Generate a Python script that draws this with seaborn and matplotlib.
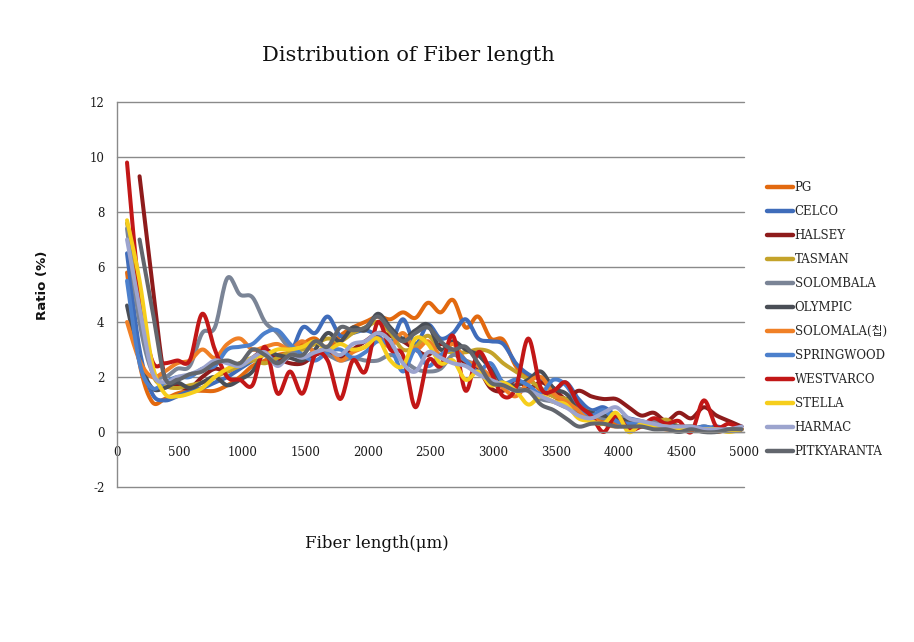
import numpy as np
import pandas as pd
import matplotlib
matplotlib.use("Agg")
import matplotlib.pyplot as plt
import seaborn as sns
from matplotlib.lines import Line2D

# fiber length bins (um)
fiber_len = [80 + 100 * i for i in range(50)]

series_names = ['PG', 'CELCO', 'HALSEY', 'TASMAN', 'SOLOMBALA', 'OLYMPIC',
                'SOLOMALA(칩)', 'SPRINGWOOD', 'WESTVARCO', 'STELLA', 'HARMAC',
                'PITKYARANTA']

series_colors = ['#E2690F', '#3F6CBA', '#8E1B1B', '#C4A32A', '#7A8496', '#4A4E56',
                 '#F08026', '#4C80CC', '#C21717', '#F6CE1C', '#9CA4CE', '#62666D']

nan = np.nan

pg = [5.8, 2.5, 1.1, 1.2, 1.4, 1.5, 1.5, 1.5, 1.7, 2.0, 2.4, 2.6, 2.8, 2.9, 3.2, 3.4, 3.0, 3.5, 3.8, 4.0,
      4.2, 4.1, 4.35, 4.15, 4.7, 4.35, 4.8, 3.8, 4.2, 3.4, 3.35, 2.4, 2.0, 1.5, 1.3, 1.0, 0.7, 0.5, 0.4, 0.3,
      0.3, 0.2, 0.2, 0.1, 0.1, 0.1, 0.1, 0.0, 0.1, 0.1]
celco = [6.5, 3.0, 1.4, 1.15, 1.3, 1.5, 1.6, 1.8, 2.0, 2.3, 2.6, 3.0, 2.6, 2.8, 3.8, 3.6, 4.2, 3.5, 3.6, 3.7,
         3.5, 3.2, 4.1, 3.2, 3.9, 3.4, 3.6, 4.1, 3.4, 3.3, 3.2, 2.5, 2.1, 1.9, 1.5, 1.8, 1.2, 0.8, 0.9, 0.6,
         0.5, 0.4, 0.3, 0.4, 0.2, 0.2, 0.1, 0.2, 0.1, 0.2]
halsey = [nan, 9.3, 5.5, 2.0, 1.7, 1.6, 2.0, 2.3, 2.2, 2.5, 2.7, 3.0, 2.7, 2.5, 2.5, 2.8, 2.9, 2.7, 3.0, 3.3,
          3.6, 3.5, 3.3, 3.0, 2.8, 3.2, 2.9, 2.5, 2.3, 1.6, 1.5, 1.9, 1.6, 1.8, 1.6, 1.2, 1.5, 1.3, 1.2, 1.2,
          0.9, 0.6, 0.7, 0.4, 0.7, 0.5, 0.9, 0.6, 0.4, 0.2]
tasman = [7.6, 5.0, 2.2, 1.7, 1.6, 1.7, 1.8, 2.0, 2.2, 2.4, 2.6, 2.5, 2.7, 2.9, 3.0, 3.2, 3.4, 3.3, 3.6, 3.8,
          4.0, 3.6, 3.0, 3.1, 3.5, 3.0, 2.9, 2.9, 3.0, 2.9, 2.5, 2.2, 1.9, 1.6, 1.3, 1.2, 0.9, 0.7, 0.5, 0.6,
          0.4, 0.2, 0.3, 0.45, 0.2, 0.2, 0.1, 0.1, 0.1, 0.1]
solombala = [7.4, 4.0, 2.2, 2.0, 2.3, 2.4, 3.6, 3.8, 5.6, 5.0, 4.9, 4.0, 3.6, 3.0, 2.7, 2.9, 2.8, 2.6, 2.7, 2.6,
             2.6, 2.8, 2.6, 2.3, 2.2, 2.3, 2.8, 2.6, 2.4, 2.0, 1.7, 1.6, 1.5, 1.2, 1.1, 0.9, 0.8, 0.7, 0.5, 0.6,
             0.4, 0.3, 0.4, 0.2, 0.2, 0.1, 0.1, 0.1, 0.1, 0.1]
olympic = [4.6, 2.6, 1.6, 1.6, 1.8, 1.6, 1.8, 2.0, 1.7, 1.9, 2.2, 2.9, 2.8, 2.7, 2.6, 3.0, 3.6, 3.3, 3.8, 3.7,
           4.3, 3.8, 3.4, 3.7, 3.9, 3.0, 3.3, 3.0, 2.8, 2.3, 1.8, 1.7, 1.9, 2.2, 1.6, 1.4, 0.9, 0.7, 0.6, 0.5,
           0.4, 0.3, 0.2, 0.3, 0.2, 0.1, 0.2, 0.1, 0.1, 0.1]
solomala_chip = [4.0, 2.6, 2.0, 2.2, 2.5, 2.6, 3.0, 2.7, 3.2, 3.4, 3.0, 3.1, 3.2, 3.0, 3.3, 2.9, 3.1, 2.6, 2.9, 3.1,
                 3.4, 3.1, 3.6, 3.0, 3.3, 2.8, 3.2, 2.6, 2.4, 2.0, 1.6, 1.3, 1.8, 2.0, 1.4, 1.1, 0.8, 0.5, 0.3, 0.2,
                 0.3, 0.2, 0.2, 0.1, 0.2, 0.1, 0.1, 0.1, 0.1, 0.1]
springwood = [5.5, 2.5, 1.6, 1.8, 2.0, 2.0, 2.3, 2.4, 3.0, 3.1, 3.2, 3.6, 3.7, 3.2, 2.8, 2.6, 2.9, 3.0, 2.7, 2.9,
              3.3, 3.1, 2.2, 3.0, 2.4, 2.8, 3.0, 2.6, 2.2, 2.5, 1.8, 1.9, 1.7, 1.4, 1.9, 1.7, 1.0, 0.6, 0.8, 0.4,
              0.3, 0.3, 0.2, 0.3, 0.1, 0.1, 0.2, 0.1, 0.1, 0.1]
westvarco = [9.8, 5.0, 2.6, 2.5, 2.6, 2.6, 4.3, 3.0, 2.0, 1.9, 1.7, 3.1, 1.4, 2.2, 1.4, 2.8, 2.6, 1.2, 2.6, 2.2,
             4.0, 3.0, 2.8, 0.9, 2.6, 2.4, 3.5, 1.5, 2.9, 2.2, 1.3, 1.6, 3.4, 1.6, 1.5, 1.8, 1.0, 0.6, 0.0, 0.6,
             0.1, 0.2, 0.5, 0.3, 0.4, 0.0, 1.15, 0.2, 0.3, 0.1]
stella = [7.7, 5.5, 2.5, 1.4, 1.3, 1.4, 1.6, 2.0, 2.3, 2.5, 2.7, 2.8, 3.0, 3.0, 3.1, 3.3, 3.0, 3.2, 3.0, 3.1,
          3.4, 2.6, 2.4, 3.4, 3.2, 2.5, 2.6, 1.9, 2.2, 1.7, 1.8, 1.5, 1.0, 1.3, 1.1, 1.0, 0.5, 0.4, 0.3, 0.7,
          0.0, 0.3, 0.2, 0.2, 0.1, 0.1, 0.1, 0.1, 0.0, 0.1]
harmac = [7.0, 4.5, 2.2, 1.8, 2.0, 2.1, 2.3, 2.6, 2.5, 2.4, 2.7, 2.9, 2.4, 2.8, 2.7, 2.9, 3.0, 2.8, 3.2, 3.3,
          3.6, 3.3, 2.5, 2.2, 2.9, 2.7, 2.5, 2.4, 2.1, 1.9, 1.7, 1.5, 1.5, 1.3, 1.1, 0.9, 0.6, 0.5, 0.7, 0.9,
          0.5, 0.4, 0.3, 0.2, 0.2, 0.2, 0.1, 0.1, 0.1, 0.2]
pitkyaranta = [nan, 7.0, 4.5, 2.0, 1.9, 2.1, 2.2, 2.5, 2.6, 2.5, 3.0, 2.8, 2.5, 2.8, 2.8, 3.3, 3.1, 3.8, 3.7, 3.8,
               4.2, 3.7, 3.3, 3.6, 3.8, 3.3, 3.0, 3.1, 2.5, 1.8, 1.7, 1.5, 1.5, 1.0, 0.8, 0.5, 0.2, 0.3, 0.3, 0.2,
               0.2, 0.2, 0.1, 0.1, 0.0, 0.1, 0.0, 0.0, 0.1, 0.1]

series_values = [pg, celco, halsey, tasman, solombala, olympic, solomala_chip,
                 springwood, westvarco, stella, harmac, pitkyaranta]


def smooth_line(x, y, n=14):
    # Catmull-Rom curve through the points, like Excel's smoothed lines
    x = np.asarray(x, float)
    y = np.asarray(y, float)
    keep = ~np.isnan(y)
    x, y = x[keep], y[keep]
    px = np.concatenate([[x[0]], x, [x[-1]]])
    py = np.concatenate([[y[0]], y, [y[-1]]])
    t = np.linspace(0, 1, n, endpoint=False)
    xs, ys = [], []
    for i in range(1, len(px) - 2):
        for p, out in ((px, xs), (py, ys)):
            p0, p1, p2, p3 = p[i - 1], p[i], p[i + 1], p[i + 2]
            out.append(0.5 * (2 * p1 + (-p0 + p2) * t
                              + (2 * p0 - 5 * p1 + 4 * p2 - p3) * t ** 2
                              + (-p0 + 3 * p1 - 3 * p2 + p3) * t ** 3))
    xs.append([x[-1]])
    ys.append([y[-1]])
    return np.concatenate(xs), np.concatenate(ys)


frames = []
for name, vals in zip(series_names, series_values):
    sx, sy = smooth_line(fiber_len, vals)
    frames.append(pd.DataFrame({'length': sx, 'ratio': sy, 'series': name}))
df = pd.concat(frames, ignore_index=True)

sns.set_style('white')
plt.rcParams['font.family'] = ['DejaVu Serif', 'Noto Sans CJK KR']
plt.rcParams['axes.unicode_minus'] = False

fig = plt.figure(figsize=(9.14, 6.42), dpi=100)
ax = fig.add_axes([0.128, 0.2414, 0.686, 0.5997])

palette = dict(zip(series_names, series_colors))
sns.lineplot(data=df, x='length', y='ratio', hue='series', hue_order=series_names,
             palette=palette, sort=False, estimator=None, linewidth=2.9,
             legend=False, ax=ax)

grid_color = '#8A8A8A'
ax.set_xlim(0, 5000)
ax.set_ylim(-2, 12)
ax.set_xticks(range(0, 5001, 500))
ax.set_yticks(range(-2, 13, 2))
ax.yaxis.grid(True, color=grid_color, linewidth=1.0)
ax.xaxis.grid(False)
ax.set_axisbelow(True)
for gl in ax.yaxis.get_gridlines():
    gl.set_clip_on(False)

for side in ['top', 'right']:
    ax.spines[side].set_visible(False)
ax.spines['bottom'].set_position(('data', 0))
ax.spines['bottom'].set_color(grid_color)
ax.spines['left'].set_color(grid_color)
ax.spines['bottom'].set_linewidth(1.0)
ax.spines['left'].set_linewidth(1.0)

ax.tick_params(axis='both', direction='out', length=4, width=1, color=grid_color,
               labelsize=8.5, labelcolor='#1a1a1a')
ax.tick_params(axis='x', pad=6)
ax.tick_params(axis='y', pad=5)
ax.set_xlabel('')
ax.set_ylabel('')

fig.text(0.447, 0.914, 'Distribution of Fiber length', ha='center', va='center',
         fontsize=15, color='#111111')
fig.text(0.412, 0.154, 'Fiber length(μm)', ha='center', va='center',
         fontsize=12, color='#111111')
fig.text(0.046, 0.556, 'Ratio (%)', ha='center', va='center', rotation=90,
         fontsize=9.5, fontweight='bold', family=['DejaVu Sans'], color='#111111')

handles = [Line2D([0], [0], color=c, linewidth=3.2) for c in series_colors]
fig.legend(handles, series_names, loc='upper left', bbox_to_anchor=(0.834, 0.725),
           frameon=False, fontsize=8.5, handlelength=2.2, handletextpad=0.15,
           labelspacing=0.93, borderaxespad=0)

fig.savefig('out.png', dpi=100)
